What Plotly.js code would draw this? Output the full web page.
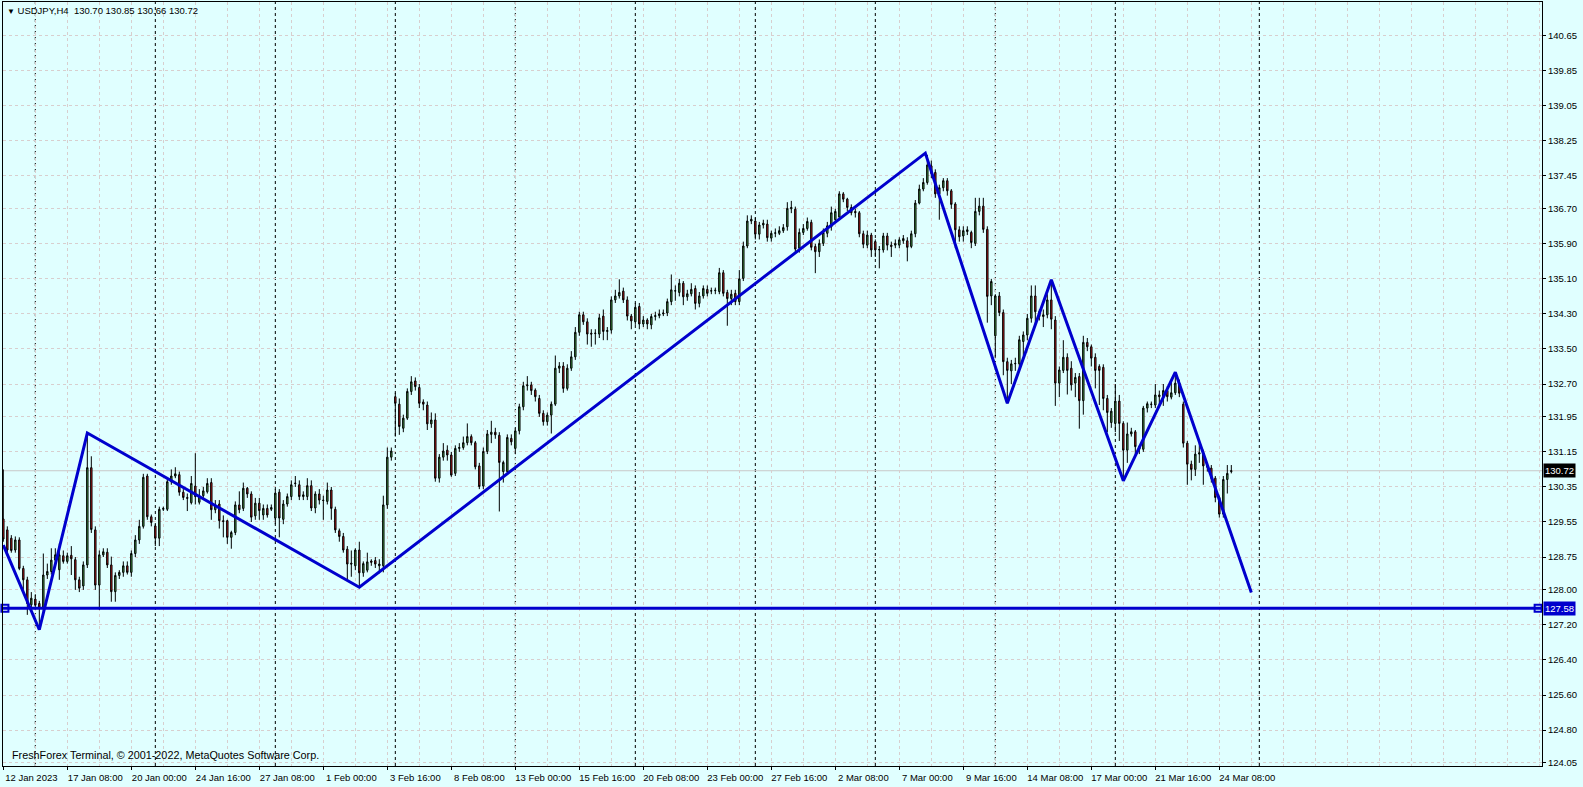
<!DOCTYPE html>
<html>
<head>
<meta charset="utf-8">
<title>USDJPY,H4</title>
<script src="https://cdn.plot.ly/plotly-3.0.1.min.js"></script>
<style>
  html, body { margin: 0; padding: 0; background: #E0FFFF; }
  #chart { width: 1583px; height: 787px; }
</style>
</head>
<body>
<div id="chart"></div>
<script>
// USDJPY H4, one bar every 4 hours, bar 0 = 12 Jan 2023 16:00
var symbol = 'USDJPY', timeframe = 'H4';

var O = [
129.62,129.37,129.18,128.91,129.14,128.49,128.23,127.66,127.79,127.69,
127.58,128.34,128.42,128.68,128.46,128.78,128.65,128.79,128.69,128.23,
128.09,128.57,130.79,129.37,128.11,128.80,128.86,128.57,127.96,128.33,
128.40,128.55,128.40,128.83,129.14,129.45,130.60,129.67,129.46,129.18,
129.84,129.84,130.47,130.60,130.63,130.23,130.11,129.99,130.37,130.00,
130.15,130.24,130.45,129.83,129.96,129.58,129.58,129.20,129.31,129.94,
129.86,130.32,130.19,129.69,129.98,129.71,129.86,129.84,129.64,130.23,
129.61,129.96,130.13,130.44,130.40,130.13,130.13,130.38,129.87,130.19,
130.05,130.02,130.28,129.84,129.35,129.22,128.93,128.61,128.55,128.91,
128.39,128.45,128.66,128.67,128.55,128.55,129.94,131.03,132.41,132.24,
131.69,131.92,132.53,132.77,132.62,132.29,132.22,131.79,131.88,130.55,
131.03,131.19,131.08,130.66,131.23,131.25,131.36,131.50,131.36,130.83,
130.37,131.16,131.55,131.60,131.53,130.70,130.70,131.46,131.23,131.63,
132.18,132.66,132.68,132.56,132.37,132.03,131.84,131.99,132.24,133.06,
133.11,132.60,133.06,133.32,133.88,134.28,134.12,133.86,133.85,133.84,
134.25,133.90,133.93,134.62,134.71,134.82,134.62,134.25,134.12,134.47,
134.07,134.16,134.05,134.24,134.26,134.30,134.32,134.58,134.82,134.79,
135.00,134.69,134.76,134.88,134.54,134.71,134.86,134.82,134.83,134.81,
135.24,134.79,134.65,134.77,134.58,135.11,135.85,136.42,136.42,136.12,
136.33,136.35,136.03,136.14,136.14,136.20,136.29,136.70,136.69,135.80,
136.16,136.25,136.39,135.84,135.72,135.91,136.14,136.29,136.45,136.51,
137.04,136.92,136.73,136.64,136.61,136.13,135.87,136.10,135.95,135.76,
135.76,136.08,135.87,135.87,135.87,135.97,135.97,135.84,136.13,136.83,
137.15,137.30,137.68,137.53,137.04,137.18,137.34,137.11,136.81,136.22,
136.08,136.18,136.16,135.91,136.64,136.76,136.23,134.71,133.80,134.71,
134.33,133.21,133.00,133.16,133.16,133.67,133.82,134.20,134.71,134.35,
134.24,134.28,134.62,134.16,132.72,133.01,133.31,133.06,132.72,132.87,
132.32,133.65,133.55,133.31,133.10,133.08,132.37,131.82,131.80,132.31,
131.80,131.19,131.56,131.61,131.27,131.21,132.15,132.23,132.22,132.45,
132.41,132.55,132.40,132.50,132.72,132.24,131.35,130.87,130.75,131.10,
131.13,130.85,130.78,130.55,130.11,129.73,130.52,130.70];

var H = [
130.75,129.45,129.25,129.22,129.20,128.55,128.30,127.95,127.90,127.75,
128.83,128.60,128.95,128.95,129.06,128.90,128.85,129.00,128.75,128.30,
128.65,131.56,131.05,129.45,128.90,128.95,128.95,128.76,128.40,128.45,
128.65,128.65,128.90,129.25,129.60,130.65,130.65,129.72,129.50,129.90,
129.90,130.55,130.75,130.80,130.70,130.30,130.20,130.60,131.12,130.30,
130.35,130.55,130.55,130.05,130.05,129.70,129.60,129.35,130.02,130.25,
130.45,130.35,130.25,130.10,130.10,129.95,129.95,129.95,130.30,130.30,
130.05,130.20,130.50,130.60,130.50,130.25,130.55,130.50,130.25,130.30,
130.15,130.45,130.35,129.90,129.40,129.30,129.00,128.90,128.95,129.10,
128.65,128.85,128.70,128.75,128.70,130.15,131.25,131.25,132.50,132.37,
132.00,132.60,132.88,132.85,132.70,132.35,132.30,132.05,132.03,131.10,
131.35,131.30,131.15,131.30,131.35,131.50,131.80,131.55,131.40,130.90,
131.25,131.65,131.86,131.70,131.60,130.95,131.55,131.55,131.70,132.25,
132.75,132.88,132.75,132.60,132.45,132.10,132.05,132.30,133.35,133.20,
133.20,133.15,133.45,134.00,134.35,134.35,134.20,133.95,133.95,134.30,
134.40,134.00,134.70,134.85,135.09,134.90,134.70,134.30,134.55,134.55,
134.25,134.20,134.30,134.35,134.40,134.40,134.65,135.20,134.95,135.10,
135.05,134.85,135.00,134.95,134.80,134.95,134.95,134.90,134.90,135.35,
135.30,134.85,134.85,134.85,135.30,135.95,136.55,136.55,136.50,136.40,
136.45,136.45,136.20,136.25,136.30,136.35,136.85,136.88,136.75,136.25,
136.35,136.50,136.45,135.90,136.00,136.25,136.40,136.75,136.70,137.10,
137.08,136.95,136.80,136.70,136.65,136.20,136.20,136.15,136.00,135.85,
136.15,136.15,135.95,136.00,136.05,136.10,136.05,136.20,136.90,137.25,
137.40,137.93,137.80,137.60,137.25,137.40,137.40,137.15,136.85,136.30,
136.30,136.30,136.20,136.95,136.95,136.95,136.30,135.10,134.75,134.80,
134.40,133.30,133.25,133.30,133.80,133.90,134.30,134.95,134.95,134.40,
134.40,134.75,135.08,134.25,133.10,133.70,133.40,133.22,132.95,132.95,
133.80,133.75,133.60,133.40,133.15,133.15,132.45,132.15,132.70,132.45,
131.85,131.82,131.70,131.65,131.30,132.20,132.30,132.30,132.70,132.55,
132.70,132.65,132.75,132.97,132.80,132.30,131.40,130.95,131.30,131.35,
131.20,130.90,130.85,130.60,130.15,130.60,130.85,130.85];

var L = [
129.10,128.85,128.85,128.85,128.45,128.00,127.43,127.60,127.55,127.09,
127.50,128.25,128.35,128.55,128.23,128.60,128.60,128.34,128.00,127.95,
128.00,128.50,129.30,128.00,127.54,128.75,128.50,127.73,127.73,128.25,
128.30,128.35,128.30,128.75,129.05,129.40,129.60,129.45,129.00,129.00,
129.80,129.80,130.40,130.55,130.15,130.05,129.80,129.95,129.95,129.95,
130.10,130.20,129.60,129.75,129.40,129.20,129.05,128.94,129.25,129.75,
129.80,130.10,129.55,129.60,129.60,129.60,129.65,129.80,129.50,129.20,
129.50,129.90,130.05,130.35,130.05,130.05,130.05,129.80,129.75,129.95,
129.60,129.95,129.60,129.30,129.10,128.85,128.20,128.30,128.45,128.06,
128.30,128.40,128.55,128.50,128.38,128.40,129.85,130.95,131.50,131.54,
131.60,131.88,132.45,132.55,132.15,132.10,131.65,131.70,130.47,130.45,
130.95,130.95,130.58,130.60,131.15,131.20,131.30,131.30,130.75,130.30,
130.30,131.10,131.35,131.45,129.79,130.45,130.65,131.30,131.10,131.55,
132.10,132.55,132.45,132.30,131.95,131.75,131.75,131.57,132.20,132.95,
132.50,132.55,133.00,133.25,133.80,134.05,133.60,133.55,133.60,133.75,
133.70,133.70,133.85,134.55,134.65,134.55,134.15,133.95,134.05,133.95,
134.00,133.95,133.95,134.15,134.20,134.25,134.25,134.50,134.60,134.70,
134.50,134.60,134.70,134.40,134.45,134.65,134.70,134.75,134.75,134.75,
134.70,134.03,134.50,134.50,134.50,135.05,135.80,136.35,136.00,136.00,
136.25,135.95,135.95,136.05,136.10,136.15,136.20,136.60,135.70,135.70,
136.10,136.20,135.75,135.23,135.60,135.85,136.05,136.20,136.40,136.45,
136.85,136.65,136.55,136.50,136.05,135.80,135.80,135.60,135.60,135.34,
135.70,135.75,135.60,135.80,135.80,135.90,135.50,135.80,136.05,136.80,
137.10,137.25,137.40,136.95,136.45,137.10,137.00,136.70,135.80,135.95,
135.95,136.10,135.80,135.85,136.55,136.15,134.10,134.50,133.30,134.25,
132.90,132.26,132.70,133.00,133.05,133.35,133.70,134.10,134.05,134.15,
134.00,134.20,133.95,132.20,132.40,132.95,132.46,132.55,132.40,131.68,
132.00,133.45,133.10,132.60,132.22,132.10,131.60,131.70,131.60,131.40,
130.49,130.90,131.50,131.05,131.10,131.15,132.05,132.15,132.15,132.20,
132.20,132.30,132.35,132.45,132.40,131.25,130.40,130.50,130.60,130.90,
130.40,130.70,130.45,130.00,129.65,129.65,130.20,130.66];

var C = [
129.16,128.91,128.90,129.14,128.49,128.23,127.69,127.81,127.65,127.58,
128.34,128.42,128.68,128.80,128.80,128.65,128.78,128.71,128.23,128.04,
128.57,130.79,129.38,128.11,128.80,128.87,128.57,127.96,128.33,128.40,
128.55,128.40,128.83,129.14,129.45,130.57,129.67,129.54,129.18,129.84,
129.86,130.47,130.60,130.65,130.23,130.11,130.09,130.43,130.13,130.15,
130.26,130.43,129.83,129.94,129.58,129.56,129.20,129.31,129.94,129.83,
130.32,130.19,129.66,129.98,129.81,129.86,129.71,129.88,130.21,129.64,
129.96,130.13,130.40,130.43,130.13,130.17,130.38,129.87,130.19,130.05,
130.04,130.28,129.86,129.37,129.22,128.91,128.59,128.59,128.91,128.39,
128.60,128.64,128.63,128.59,128.59,129.94,131.03,131.17,132.26,131.73,
131.92,132.53,132.75,132.64,132.26,132.24,131.79,131.88,130.55,131.03,
131.17,131.08,130.62,131.23,131.25,131.36,131.50,131.36,130.81,130.36,
131.16,131.56,131.60,131.54,130.91,130.91,131.48,131.38,131.63,132.18,
132.66,132.68,132.55,132.41,132.03,131.84,131.99,132.24,133.06,133.11,
132.60,133.06,133.32,133.88,134.28,134.12,133.84,133.84,133.86,134.21,
133.90,133.92,134.62,134.71,134.79,134.62,134.25,134.14,134.45,134.07,
134.16,134.07,134.24,134.26,134.30,134.32,134.58,134.85,134.83,135.00,
134.69,134.76,134.86,134.54,134.71,134.88,134.77,134.83,134.84,135.24,
134.77,134.65,134.75,134.58,135.10,135.85,136.42,136.46,136.12,136.33,
136.37,136.04,136.14,136.15,136.20,136.27,136.71,136.73,135.78,136.16,
136.25,136.41,135.82,135.72,135.91,136.16,136.31,136.61,136.64,137.04,
136.92,136.73,136.61,136.61,136.13,135.89,136.10,135.76,135.76,135.77,
136.08,135.87,135.84,135.91,135.99,136.02,135.82,136.13,136.83,137.15,
137.30,137.70,137.51,137.04,137.18,137.34,137.11,136.80,136.22,136.06,
136.20,136.22,135.93,136.64,136.76,136.23,134.70,135.04,134.71,134.33,
133.21,133.01,133.16,133.17,133.71,133.82,134.20,134.71,134.35,134.24,
134.28,134.62,134.18,132.72,133.02,133.31,133.01,132.68,132.85,132.32,
133.65,133.55,133.29,133.01,133.01,132.37,132.05,132.08,132.31,131.80,
131.19,131.56,131.61,131.27,131.21,132.15,132.25,132.24,132.45,132.41,
132.55,132.41,132.50,132.72,132.49,131.35,130.87,130.75,131.10,131.13,
130.83,130.80,130.55,130.11,129.73,130.52,130.66,130.72];

// zigzag turning points (bar index, price)
var zzBars   = [0, 9, 21, 89, 230.5, 251, 262, 280, 293, 312];
var zzPrices = [129.02, 127.09, 131.58, 128.06, 137.97, 132.26, 135.08, 130.49, 132.97, 127.94];

// horizontal level and its two anchor points
var levelPrice = 127.58;
var levelAnchors = [0.4, 383.7];

// weekly period separators (Monday 00:00 bars)
var sepBars = [8, 38, 68, 98, 128, 158, 188, 218, 248, 278, 314];

// time scale labels, one every 16 bars
var xLabels = ['12 Jan 2023','17 Jan 08:00','20 Jan 00:00','24 Jan 16:00','27 Jan 08:00',
  '1 Feb 00:00','3 Feb 16:00','8 Feb 08:00','13 Feb 00:00','15 Feb 16:00',
  '20 Feb 08:00','23 Feb 00:00','27 Feb 16:00','2 Mar 08:00','7 Mar 00:00',
  '9 Mar 16:00','14 Mar 08:00','17 Mar 00:00','21 Mar 16:00','24 Mar 08:00'];
var xLabelStep = 16;

// price scale
var yTicks = [140.65, 139.85, 139.05, 138.25, 137.45, 136.70, 135.90, 135.10, 134.30, 133.50,
  132.70, 131.95, 131.15, 130.35, 129.55, 128.75, 128.00, 127.20, 126.40, 125.60, 124.80, 124.05];

var bars = C.map(function (v, i) { return i; });
var labelBars = xLabels.map(function (v, i) { return i * xLabelStep; });
var last = C.length - 1;

var blue = '#0000CD';
var gridColor = '#D8CECE';

var candles = {
  type: 'candlestick',
  x: bars, open: O, high: H, low: L, close: C,
  increasing: { line: { color: '#000', width: 1 }, fillcolor: '#4DB34D' },
  decreasing: { line: { color: '#000', width: 1 }, fillcolor: '#DD1E1E' },
  whiskerwidth: 0,
  hoverinfo: 'skip'
};

var zigzag = {
  type: 'scatter', mode: 'lines',
  x: zzBars, y: zzPrices,
  line: { color: blue, width: 3 },
  hoverinfo: 'skip'
};

var anchors = {
  type: 'scatter', mode: 'markers',
  x: levelAnchors, y: levelAnchors.map(function () { return levelPrice; }),
  marker: { symbol: 'square', size: 7, color: '#E0FFFF', line: { color: blue, width: 2 } },
  hoverinfo: 'skip', cliponaxis: false
};

var shapes = sepBars.map(function (b) {
  return { type: 'line', xref: 'x', yref: 'paper', x0: b, x1: b, y0: 0, y1: 1,
    line: { color: '#000', width: 1, dash: '3px,3px' }, layer: 'between' };
});
shapes.push({ type: 'line', xref: 'paper', yref: 'y', x0: 0, x1: 1, y0: C[last], y1: C[last],
  line: { color: '#C8C8C8', width: 1 }, layer: 'between' });
shapes.push({ type: 'line', xref: 'paper', yref: 'y', x0: 0, x1: 1, y0: levelPrice, y1: levelPrice,
  line: { color: blue, width: 3 }, layer: 'above' });

var header = '<span style="font-size:8px">&#9660;</span> ' + symbol + ',' + timeframe + '&nbsp;&nbsp;' +
  [O[last], H[last], L[last], C[last]].map(function (v) { return v.toFixed(2); }).join(' ');

var annotations = [
  { xref: 'paper', yref: 'paper', x: 0, y: 1, xanchor: 'left', yanchor: 'top',
    xshift: 2, yshift: -1, showarrow: false, text: header, font: { size: 9.5, color: '#000' } },
  { xref: 'paper', yref: 'paper', x: 0, y: 0, xanchor: 'left', yanchor: 'bottom',
    xshift: 7, yshift: 3, showarrow: false,
    text: 'FreshForex Terminal, \u00a9 2001-2022, MetaQuotes Software Corp.',
    font: { size: 10.8, color: '#000' } },
  { xref: 'paper', yref: 'y', x: 1, y: C[last], xanchor: 'left', yanchor: 'middle', xshift: 1,
    showarrow: false, text: C[last].toFixed(2), bgcolor: '#000', borderpad: 1,
    font: { size: 9.5, color: '#FFF' } },
  { xref: 'paper', yref: 'y', x: 1, y: levelPrice, xanchor: 'left', yanchor: 'middle', xshift: 1,
    showarrow: false, text: levelPrice.toFixed(2), bgcolor: blue, borderpad: 1,
    font: { size: 9.5, color: '#FFF' } }
];

var layout = {
  width: 1583, height: 787,
  margin: { l: 3, r: 41, t: 2, b: 21 },
  paper_bgcolor: '#E0FFFF', plot_bgcolor: '#E0FFFF',
  font: { family: 'Liberation Sans, Arial, sans-serif', size: 9.5, color: '#000' },
  showlegend: false,
  boxgap: 0.5,
  xaxis: {
    range: [-0.08, 384.67], autorange: false, fixedrange: true,
    rangeslider: { visible: false },
    showline: true, linecolor: '#000', linewidth: 1, mirror: true,
    tickmode: 'array', tickvals: labelBars, ticktext: xLabels,
    ticks: 'outside', ticklen: 3, tickcolor: '#000', ticklabelshift: 28,
    showgrid: true, gridcolor: gridColor, griddash: '3px,3px', gridwidth: 1,
    minor: { tick0: 0, dtick: 8, showgrid: true, gridcolor: gridColor, griddash: '3px,3px', ticks: '' },
    zeroline: false
  },
  yaxis: {
    side: 'right', range: [123.98, 141.42], autorange: false, fixedrange: true,
    showline: true, linecolor: '#000', linewidth: 1, mirror: true,
    tickmode: 'array', tickvals: yTicks, ticktext: yTicks.map(function (v) { return v.toFixed(2); }),
    ticks: 'outside', ticklen: 3, tickcolor: '#000',
    showgrid: true, gridcolor: gridColor, griddash: '3px,3px', gridwidth: 1,
    zeroline: false
  },
  shapes: shapes,
  annotations: annotations
};

Plotly.newPlot('chart', [candles, zigzag, anchors], layout, { staticPlot: true });
</script>
</body>
</html>
